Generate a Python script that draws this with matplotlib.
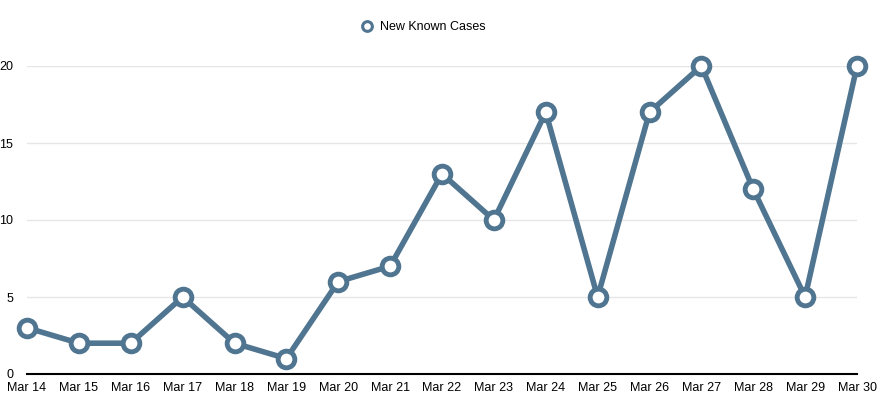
import matplotlib
matplotlib.use("Agg")
import matplotlib.pyplot as plt

dates = ["Mar 14", "Mar 15", "Mar 16", "Mar 17", "Mar 18", "Mar 19", "Mar 20", "Mar 21",
         "Mar 22", "Mar 23", "Mar 24", "Mar 25", "Mar 26", "Mar 27", "Mar 28", "Mar 29", "Mar 30"]
new_cases = [3, 2, 2, 5, 2, 1, 6, 7, 13, 10, 17, 5, 17, 20, 12, 5, 20]
yticks = [0, 5, 10, 15, 20]

plt.rcParams['font.family'] = ['Liberation Sans', 'DejaVu Sans']
color = "#4f7591"

fig = plt.figure(figsize=(8.9, 3.99), dpi=100)
ax = fig.add_axes([27/890, 25/399, (857-27)/890, (374-66)/399])
x = list(range(len(dates)))
ax.plot(x, new_cases, color=color, lw=4, marker='o', ms=12, mfc='white',
        mec=color, mew=3.5, clip_on=False, zorder=5)
ax.set_xlim(0, len(dates) - 1)
ax.set_ylim(0, 20)
ax.set_xticks(x)
ax.set_xticklabels(dates, fontsize=9)
ax.set_yticks(yticks)
ax.set_yticklabels([str(v) for v in yticks], fontsize=9)
ax.tick_params(axis='both', length=0)
ax.tick_params(axis='y', pad=10)
ax.tick_params(axis='x', pad=5.5)
for s in ['top', 'right', 'left']:
    ax.spines[s].set_visible(False)
ax.spines['bottom'].set_color('black')
ax.spines['bottom'].set_linewidth(1.5)
ax.grid(axis='y', color='#e6e6e6', lw=1)
ax.set_axisbelow(True)
h, = ax.plot([], [], color=color, lw=0, marker='o', ms=7, mfc='white', mec=color, mew=2.2)
fig.legend([h], ["New Known Cases"], loc='center', bbox_to_anchor=(0.477, 1 - 27/399),
           frameon=False, fontsize=9, handlelength=0.6, handletextpad=0.7)
fig.savefig("out.png", dpi=100, facecolor='white')
